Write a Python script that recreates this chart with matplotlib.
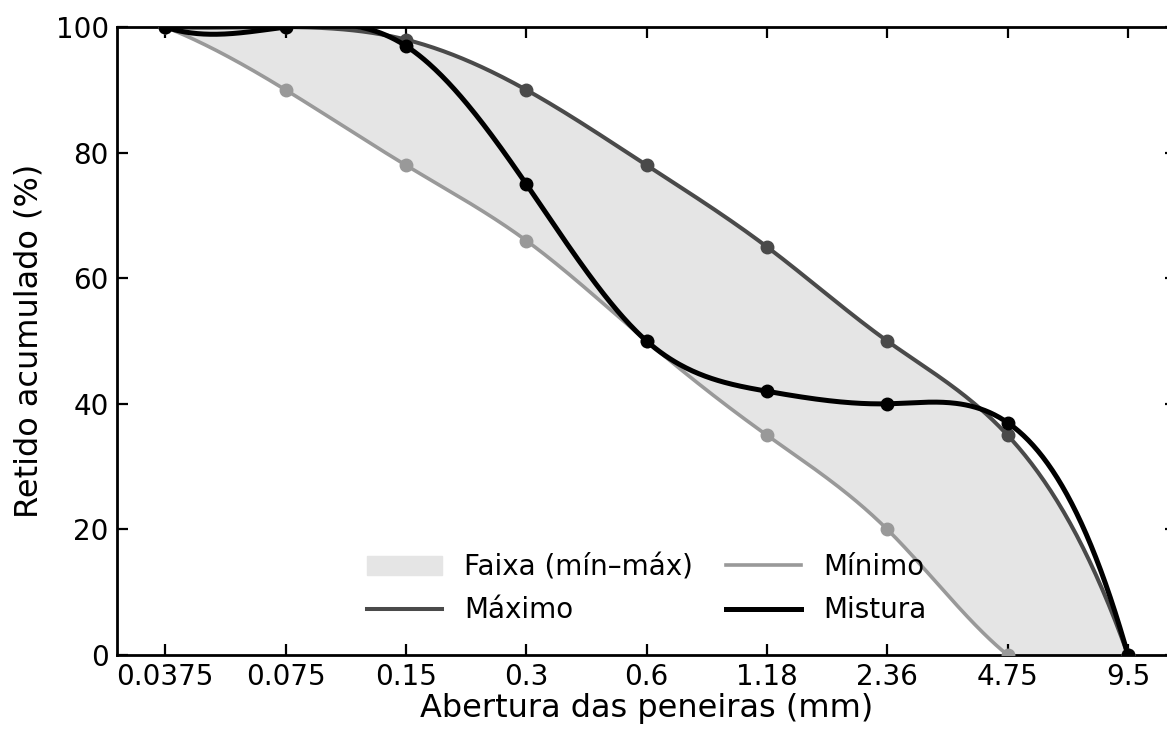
import matplotlib
matplotlib.use("Agg")
import matplotlib.pyplot as plt
import numpy as np

#--------------------------     data    --------------------------#

peneiras = ["0.0375", "0.075", "0.15", "0.3", "0.6", "1.18", "2.36", "4.75", "9.5"]
maximo = [100, 100, 98, 90, 78, 65, 50, 35, 0]
minimo = [100, 90, 78, 66, 50, 35, 20, 0, 0]
mistura = [100, 100, 97, 75, 50, 42, 40, 37, 0]


# cubic spline with not-a-knot ends (no scipy available)
def spline(x, y, xs):
    x = np.asarray(x, float)
    y = np.asarray(y, float)
    n = len(x)
    m = n - 1
    A = np.zeros((4 * m, 4 * m))
    b = np.zeros(4 * m)
    r = 0
    for i in range(m):
        h = x[i + 1] - x[i]
        A[r, 4 * i] = 1
        b[r] = y[i]
        r += 1
        A[r, 4 * i:4 * i + 4] = [1, h, h ** 2, h ** 3]
        b[r] = y[i + 1]
        r += 1
    for i in range(m - 1):
        h = x[i + 1] - x[i]
        A[r, 4 * i:4 * i + 4] = [0, 1, 2 * h, 3 * h ** 2]
        A[r, 4 * (i + 1) + 1] = -1
        r += 1
        A[r, 4 * i:4 * i + 4] = [0, 0, 2, 6 * h]
        A[r, 4 * (i + 1) + 2] = -2
        r += 1
    A[r, 3] = 1
    A[r, 7] = -1
    r += 1
    A[r, 4 * (m - 2) + 3] = 1
    A[r, 4 * (m - 1) + 3] = -1
    c = np.linalg.solve(A, b).reshape(m, 4)
    idx = np.clip(np.searchsorted(x, xs) - 1, 0, m - 1)
    t = xs - x[idx]
    return c[idx, 0] + c[idx, 1] * t + c[idx, 2] * t ** 2 + c[idx, 3] * t ** 3


#--------------------------     plot    --------------------------#

plt.rcParams['font.family'] = ['DejaVu Sans']
fig = plt.figure(figsize=(11.67, 7.31), dpi=100)
ax = fig.add_axes([0.1003, 0.104, 0.9075, 0.859])

xp = np.arange(len(peneiras))
xs = np.linspace(0, len(peneiras) - 1, 600)
smax = spline(xp, maximo, xs)
smin = spline(xp, minimo, xs)
smix = spline(xp, mistura, xs)

ax.fill_between(xs, np.clip(smin, 0, None), smax, color='#e5e5e5', label='Faixa (mín–máx)', zorder=1)
ax.plot(xs, smax, color='#4a4a4a', lw=2.9, label='Máximo', zorder=2)
ax.plot(xs, smin, color='#999999', lw=2.6, label='Mínimo', zorder=2)
ax.plot(xs, smix, color='black', lw=3.6, label='Mistura', zorder=4)
ax.plot(xp, maximo, 'o', color='#4a4a4a', ms=9, zorder=3)
ax.plot(xp, minimo, 'o', color='#999999', ms=9, zorder=3)
ax.plot(xp, mistura, 'o', color='black', ms=9, zorder=5)

ax.set_xlim(-0.4, 8.4)
ax.set_ylim(0, 100)
ax.set_xticks(xp)
ax.set_xticklabels(peneiras)
ax.set_yticks([0, 20, 40, 60, 80, 100])
ax.tick_params(direction='in', top=True, right=True, length=8, width=1.6, labelsize=20, pad=6)
for s in ax.spines.values():
    s.set_linewidth(2)
ax.set_xlabel('Abertura das peneiras (mm)', fontsize=23, labelpad=1)
ax.set_ylabel('Retido acumulado (%)', fontsize=23, labelpad=8)

ax.legend(loc='lower center', ncol=2, frameon=False, fontsize=20, handlelength=2.7,
          columnspacing=1.2, handletextpad=0.8, labelspacing=0.55, borderaxespad=0.7)

fig.savefig('out.png', dpi=100)
